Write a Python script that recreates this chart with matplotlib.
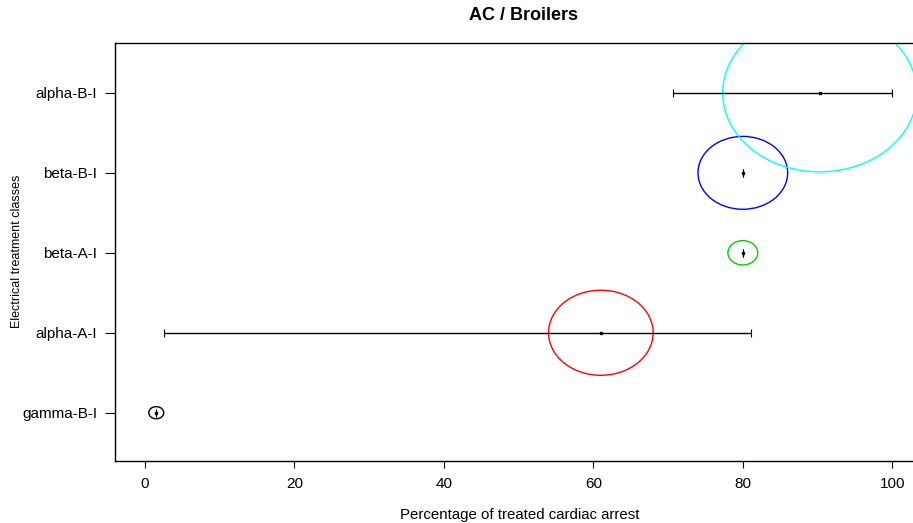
import numpy as np
import matplotlib
matplotlib.use("Agg")
import matplotlib.pyplot as plt
from matplotlib.patches import Ellipse

plt.rcParams['font.family'] = ['Liberation Sans', 'DejaVu Sans']

# ---- data ----
categories = ['gamma-B-I', 'alpha-A-I', 'beta-A-I', 'beta-B-I', 'alpha-B-I']
percent = [1.5, 61.0, 80.0, 80.0, 90.3]
lower = [1.5, 2.6, 80.0, 80.0, 70.6]
upper = [1.5, 81.1, 80.0, 80.0, 100.0]
n_size = [1, 49, 4, 36, 169]
colors = ['black', 'red', '#00CD00', 'blue', 'cyan']
xticks = [0, 20, 40, 60, 80, 100]

W, H = 913, 523
fig = plt.figure(figsize=(W / 100, H / 100), dpi=100)
left_px, right_px, top_px, bot_px = 115.3, 922.0, 43.3, 460.7
ax = fig.add_axes([left_px / W, 1 - bot_px / H, (right_px - left_px) / W, (bot_px - top_px) / H])

ypos = np.arange(1, len(categories) + 1)
ax.set_xlim(-3.98, 103.98)
ax.set_ylim(0.4, 5.62)

# error bars
xerr = [np.array(percent) - np.array(lower), np.array(upper) - np.array(percent)]
ax.errorbar(percent, ypos, xerr=xerr, fmt='none', ecolor='black', elinewidth=1.0,
            capsize=3, capthick=0.8, zorder=3)
ax.plot(percent, ypos, 's', color='black', markersize=2, zorder=4)

# circles (sized by sqrt(n) in x units; drawn slightly flattened as in reference)
fig.canvas.draw()
t = ax.transData
px_x = t.transform((1, 0))[0] - t.transform((0, 0))[0]
px_y = t.transform((0, 1))[1] - t.transform((0, 0))[1]
for x, y, n, c in zip(percent, ypos, n_size, colors):
    rx = np.sqrt(n)
    ry_px = rx * px_x / 1.23
    e = Ellipse((x, y), width=2 * rx, height=2 * ry_px / px_y, fill=False,
                edgecolor=c, linewidth=1.0, zorder=2)
    ax.add_patch(e)

ax.set_xticks(xticks)
ax.set_xticklabels([str(v) for v in xticks])
ax.set_yticks(ypos)
ax.set_yticklabels(categories)
ax.tick_params(axis='both', direction='out', width=0.8, labelsize=11, colors='black')
ax.tick_params(axis='x', length=5, pad=6.5)
ax.tick_params(axis='y', length=7, pad=6)
for s in ax.spines.values():
    s.set_linewidth(1.0)

fig.text(523 / W, 1 - 15 / H, 'AC / Broilers', ha='center', va='center', fontsize=13, fontweight='bold')
fig.text(520 / W, 1 - 514.5 / H, 'Percentage of treated cardiac arrest', ha='center', va='center', fontsize=10.8)
fig.text(17 / W, 1 - 251 / H, 'Electrical treatment classes', ha='center', va='center', rotation=90, fontsize=9)

fig.savefig('out.png', dpi=100)
